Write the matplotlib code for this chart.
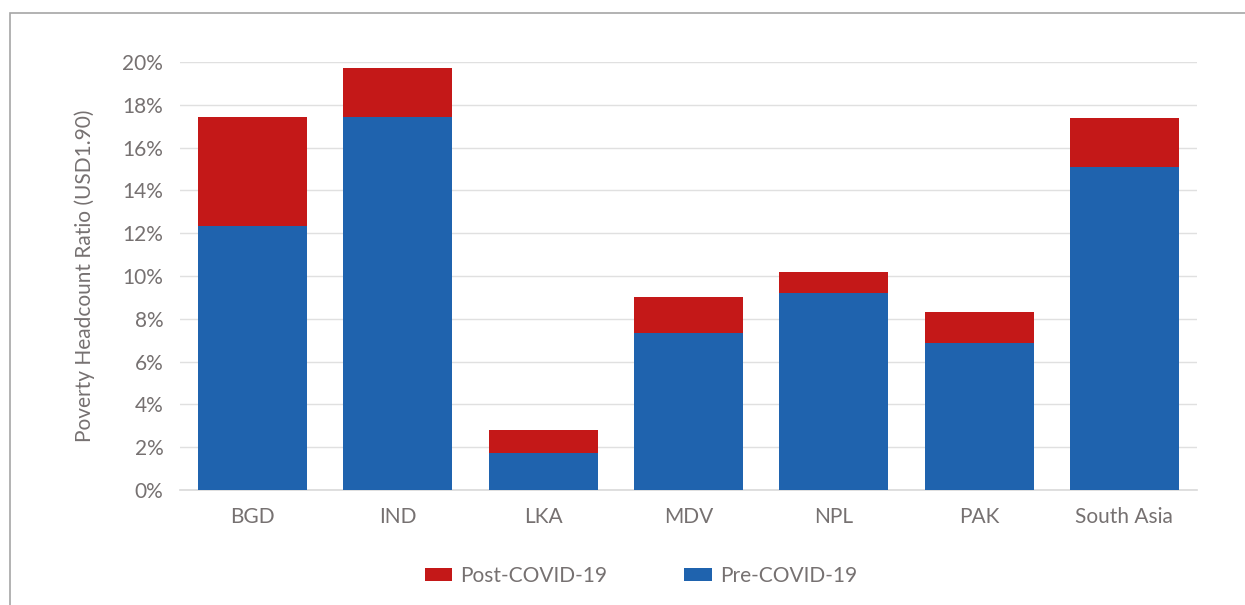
import matplotlib.pyplot as plt
from matplotlib.patches import Rectangle
from matplotlib.ticker import FuncFormatter, MultipleLocator

countries = ['BGD', 'IND', 'LKA', 'MDV', 'NPL', 'PAK', 'South Asia']
pre_covid = [12.35, 17.45, 1.73, 7.33, 9.2, 6.87, 15.1]
post_covid = [5.1, 2.25, 1.07, 1.69, 0.98, 1.45, 2.3]  # stacked on top of pre

red = '#C41818'
blue = '#1F63AE'
txt = '#767171'

plt.rcParams['font.family'] = ['Lato', 'DejaVu Sans']

fig = plt.figure(figsize=(12.45, 6.05), dpi=100)
ax = fig.add_axes([180 / 1245, 115 / 605, 1017 / 1245, 428 / 605])

x = list(range(len(countries)))
ax.bar(x, pre_covid, width=0.75, color=blue, label='Pre-COVID-19', zorder=3)
ax.bar(x, post_covid, width=0.75, bottom=pre_covid, color=red,
       label='Post-COVID-19', zorder=3)

ax.set_xlim(-0.5, 6.5)
ax.set_ylim(0, 20)
ax.yaxis.set_major_locator(MultipleLocator(2))
ax.yaxis.set_major_formatter(FuncFormatter(lambda v, p: '%d%%' % v))
ax.grid(axis='y', color='#e0e0e0', linewidth=1, zorder=0)

ax.set_xticks(x)
ax.set_xticklabels(countries)
ax.tick_params(axis='both', length=0, labelsize=15, labelcolor=txt)
ax.tick_params(axis='x', pad=12)
ax.tick_params(axis='y', pad=12)
for s in ['top', 'right', 'left']:
    ax.spines[s].set_visible(False)
ax.spines['bottom'].set_color('#d9d9d9')
ax.spines['bottom'].set_linewidth(1.2)

ax.set_ylabel('Poverty Headcount Ratio (USD1.90)', fontsize=15, color=txt,
              labelpad=20)

h, l = ax.get_legend_handles_labels()
fig.legend(h[::-1], l[::-1], loc='center', bbox_to_anchor=(641 / 1245, 1 - 576 / 605),
           ncol=2, frameon=False, fontsize=15, labelcolor=txt,
           handlelength=1.3, handleheight=0.55, columnspacing=3.7, handletextpad=0.4)

# outer chart border (cropped at right/bottom)
fig.patches.append(Rectangle((9.5 / 1245, -0.01), 1.1, 1 - 12.5 / 605 + 0.01,
                             transform=fig.transFigure, fill=False,
                             edgecolor='#a6a6a6', linewidth=1.2))

fig.savefig('out.png', dpi=100)
